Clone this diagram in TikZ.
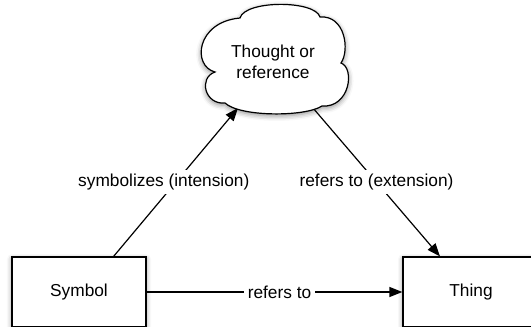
\documentclass[tikz,border=0pt]{standalone}
\usepackage{fontspec}
\setmainfont{Liberation Sans}
\usetikzlibrary{arrows.meta,shadows.blur}
\begin{document}
\begin{tikzpicture}[x=1pt, y=-1pt,
  every node/.style={font=\fontsize{17.3}{21.5}\selectfont},
  soft shadow/.style={blur shadow={shadow xshift=0pt, shadow yshift=-2pt,
      shadow blur radius=5pt, shadow opacity=45}},
  box/.style={draw=black, line width=1.2pt, fill=white, inner sep=0pt,
      minimum width=134pt, minimum height=70pt, soft shadow},
  link/.style={line width=1.2pt, -{Triangle[length=13pt,width=10pt]}},
  lbl/.style={fill=white, inner sep=4pt}]
\useasboundingbox (0,0) rectangle (531,327);

% the two boxes at the bottom
\node[box] (symbol) at (79,292) {Symbol};
\node[box, minimum width=136pt] (thing) at (471,292) {Thing};

% where the connectors meet the cloud
\coordinate (cloudin)  at (238,108);
\coordinate (cloudout) at (313,108);

% connectors (drawn before the cloud so that it covers their ends)
\draw[link] ([xshift=-33pt]symbol.north east)
  -- node[lbl, xshift=-12pt] {symbolizes (intension)} (cloudin);
\draw[link] (cloudout)
  -- node[lbl] {refers to (extension)} ([xshift=-31pt]thing.north);
\draw[link] (symbol) -- node[lbl, xshift=5pt] {refers to} (thing);

% the thought cloud
\draw[line width=1.2pt, fill=white, soft shadow]
  (215,72) .. controls (192,66) and (196,22) .. (240,18)
           .. controls (245,0) and (315,0) .. (320,17)
           .. controls (345,15) and (350,50) .. (341,63)
           .. controls (355,68) and (350,108) .. (322,106)
           .. controls (305,117) and (240,117) .. (225,103)
           .. controls (205,105) and (198,78) .. (215,72) -- cycle;
\node[align=center] (thought) at (273,62) {Thought or\\reference};
\end{tikzpicture}
\end{document}
